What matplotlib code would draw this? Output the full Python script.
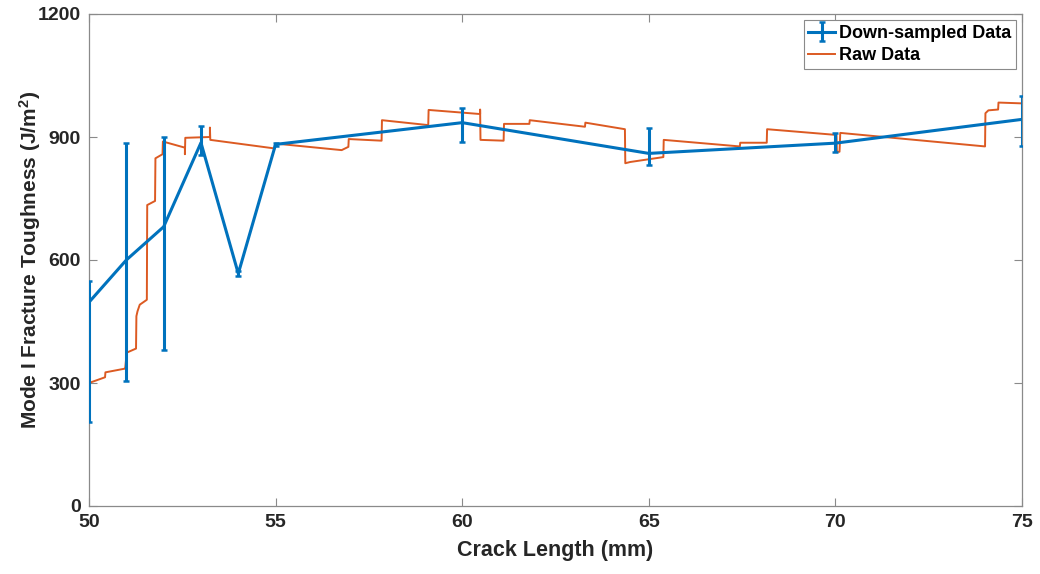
import matplotlib
matplotlib.use("Agg")
import matplotlib.pyplot as plt

plt.rcParams['font.family'] = ['Liberation Sans', 'DejaVu Sans']
plt.rcParams['font.weight'] = 'bold'
plt.rcParams['mathtext.fontset'] = 'custom'
plt.rcParams['mathtext.rm'] = 'Liberation Sans:bold'
plt.rcParams['mathtext.bf'] = 'Liberation Sans:bold'
plt.rcParams['mathtext.default'] = 'bf'

# Down-sampled toughness with error bounds
crack_ds = [50, 51, 52, 53, 54, 55, 60, 65, 70, 75]
g_ds = [497, 600, 681, 886, 567, 882, 935, 860, 885, 943]
g_upper = [549, 886, 901, 926, 573, 886, 970, 923, 910, 1000]
g_lower = [205, 304, 380, 855, 561, 877, 889, 832, 864, 877]

# Raw R-curve trace
crack_raw = [50.00, 50.43, 50.44, 50.96, 50.97, 51.01, 51.26, 51.27, 51.30, 51.36,
             51.55, 51.56, 51.77, 51.78, 51.97, 51.98, 52.57, 52.57, 52.58, 53.24,
             53.24, 53.25, 54.98, 54.99, 56.77, 56.95, 56.96, 57.84, 57.85, 59.09,
             59.10, 60.48, 60.48, 60.49, 61.11, 61.12, 61.80, 61.81, 63.29, 63.30,
             64.36, 64.37, 64.50, 65.39, 65.40, 67.44, 67.45, 68.16, 68.17, 70.03,
             70.04, 70.11, 70.12, 70.13, 74.01, 74.02, 74.10, 74.36, 74.37, 75.00]
g_raw = [300, 314, 326, 335, 336, 374, 384, 463, 475, 491,
         503, 734, 744, 848, 858, 889, 874, 858, 898, 900,
         923, 893, 872, 884, 868, 876, 895, 891, 941, 929,
         966, 956, 967, 893, 891, 932, 932, 941, 925, 935,
         919, 836, 839, 851, 893, 877, 886, 886, 919, 905,
         864, 864, 885, 910, 877, 958, 965, 967, 984, 982]

x_ticks = [50, 55, 60, 65, 70, 75]
y_ticks = [0, 300, 600, 900, 1200]

blue = '#0072BD'
orange = '#DC5A22'
spine_gray = '#8a8a8a'
text_dark = '#262626'

fig = plt.figure(figsize=(10.4, 5.74), dpi=100)
ax = fig.add_axes([89 / 1040, 68 / 574, 933 / 1040, 492 / 574])

err_lo = [g - lo for g, lo in zip(g_ds, g_lower)]
err_hi = [hi - g for g, hi in zip(g_ds, g_upper)]
h_ds = ax.errorbar(crack_ds, g_ds, yerr=[err_lo, err_hi], color=blue, lw=2.2,
                   elinewidth=2.2, capsize=2.5, capthick=1.8,
                   label='Down-sampled Data', zorder=3)
h_raw, = ax.plot(crack_raw, g_raw, color=orange, lw=1.4, label='Raw Data', zorder=2)

ax.set_xlim(50, 75)
ax.set_ylim(0, 1200)
ax.set_xticks(x_ticks)
ax.set_yticks(y_ticks)
ax.tick_params(direction='in', length=6, width=0.8, color=spine_gray,
               labelsize=14, labelcolor=text_dark, top=True, right=True, pad=6)
for lbl in ax.get_xticklabels() + ax.get_yticklabels():
    lbl.set_fontweight('bold')
for s in ax.spines.values():
    s.set_color(spine_gray)
    s.set_linewidth(0.9)

ax.set_xlabel('Crack Length (mm)', fontsize=15.5, fontweight='bold',
              color=text_dark, labelpad=6)
ax.set_ylabel('Mode I Fracture Toughness (J/m$^2$)', fontsize=15,
              fontweight='bold', color=text_dark, labelpad=-4)

leg = ax.legend([h_ds, h_raw], ['Down-sampled Data', 'Raw Data'],
                loc='upper right', fontsize=13, handlelength=1.5,
                handletextpad=0.2, borderpad=0.25, labelspacing=0.3,
                borderaxespad=0.35, fancybox=False, framealpha=1)
leg.get_frame().set_edgecolor(spine_gray)
leg.get_frame().set_linewidth(0.8)
for t in leg.get_texts():
    t.set_fontweight('bold')

fig.savefig('out.png', dpi=100)
